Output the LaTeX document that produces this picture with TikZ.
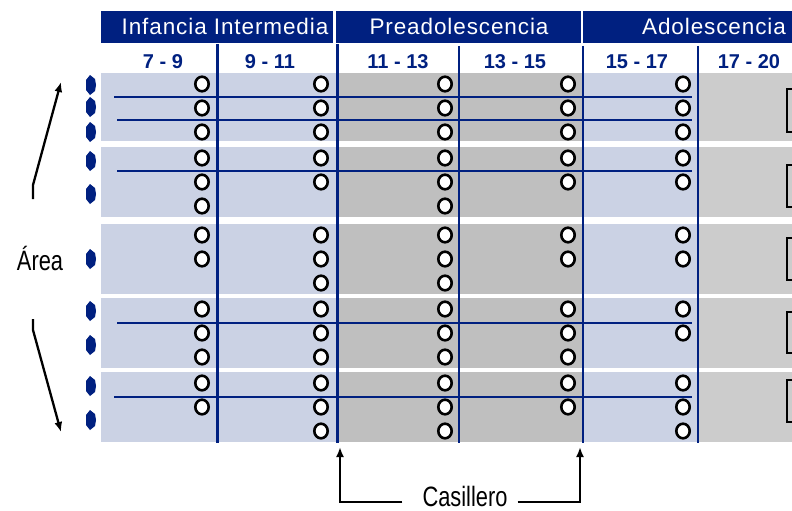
\documentclass[tikz,border=0pt]{standalone}
\usepackage{fontspec}
\setmainfont{Liberation Sans}
\newfontfamily\angosta[FakeStretch=0.78]{Liberation Sans}
\usepackage{tikz}
\usetikzlibrary{arrows.meta}
\definecolor{azul}{RGB}{0,32,128}
\definecolor{celeste}{RGB}{203,210,228}
\definecolor{gris}{RGB}{191,191,191}
\definecolor{grisclaro}{RGB}{204,204,204}

\begin{document}
\begin{tikzpicture}[x=1pt,y=-1pt,
    linea/.style={draw=azul,line width=2.3pt},
    hueco/.style={draw=black,fill=white,line width=2.6pt},
    etapa/.style={text=white,anchor=base,inner sep=0pt,font={\fontsize{22.5}{26}\selectfont\addfontfeature{LetterSpace=4}}},
    edad/.style={text=azul,anchor=base,inner sep=0pt,font={\bfseries\fontsize{20}{24}\selectfont}},
    rotulo/.style={anchor=base,inner sep=0pt,font={\angosta\fontsize{28}{32}\selectfont}},
    flecha/.style={line width=2.3pt,-{Latex[length=10pt,width=8pt]}}]
    \useasboundingbox (0,0) rectangle (792,511);
    \clip (0,0) rectangle (792,511);
    % bandas de cada area
    \foreach \arriba/\abajo in {73/141,147/217,224/294,298/368,372/442} {
        \fill[celeste] (101,\arriba) rectangle (338,\abajo);
        \fill[gris] (338,\arriba) rectangle (583,\abajo);
        \fill[celeste] (583,\arriba) rectangle (698,\abajo);
        \fill[grisclaro] (698,\arriba) rectangle (792,\abajo);
    }
    % encabezados
    \fill[azul] (101,11) rectangle (333,43);
    \fill[azul] (336,11) rectangle (581,43);
    \fill[azul] (583,11) rectangle (792,43);
    \node[etapa] (infancia) at (225,35) {Infancia Intermedia};
    \node[etapa] (preadol) at (459,35) {Preadolescencia};
    \node[etapa] (adol) at (714,35) {Adolescencia};
    \foreach \x/\txt in {163/7 - 9,270/9 - 11,398/11 - 13,515/13 - 15,637/15 - 17,749/17 - 20}
        \node[edad] (edad\x) at (\x,68) {\txt};
    % lineas
    \foreach \y/\desde in {96.7/114,120/117,171/117,323/117,397/114}
        \draw[linea] (\desde,\y) -- (692,\y);
    \foreach \x/\desde in {217.5/44,337.5/44,459/46,583/46,698/46}
        \draw[linea] (\x,\desde) -- (\x,443);
    % huecos
    \foreach \arriba/\a/\b/\c/\d/\e in {73/3/3/3/3/3,147/3/2/3/2/2,224/2/3/3/2/2,298/3/3/3/3/2,372/2/3/3/2/3}
        \foreach \x/\n in {202/\a,321/\b,445/\c,568/\d,683/\e}
            \foreach \k in {1,...,\n}
                \draw[hueco] (\x,{\arriba+11+24*(\k-1)}) ellipse (6.7pt and 7.3pt);
    % vinetas
    \foreach \y in {85,107,132,161,194,259,311,345,386,420}
        \fill[azul] (91,\y) ++(-1,-10) -- ++(5,4) -- ++(1,6) -- ++(-1,6) -- ++(-5,4) -- ++(-4,-5) -- ++(0,-10) -- cycle;
    % casillas de la derecha
    \foreach \arriba/\abajo in {89/132,165/207,238/280,312/353,380/422}
        \draw[line width=2.6pt] (800,\arriba) -| (787,\abajo) -- (800,\abajo);
    % rotulos
    \node[rotulo] (area) at (40,270) {Área};
    \coordinate (subeA) at (33,199);
    \coordinate (subeB) at (61,82);
    \coordinate (bajaA) at (33,319);
    \coordinate (bajaB) at (61,432);
    \draw[flecha] (subeA) -- ++(0,-14) -- (subeB);
    \draw[flecha] (bajaA) -- ++(0,11) -- (bajaB);
    \node[rotulo] (casillero) at (465,506) {Casillero};
    \coordinate (col1) at (340,447);
    \coordinate (col2) at (580,447);
    \draw[flecha] ([xshift=-20pt,yshift=-6pt]casillero.west) -| (col1);
    \draw[flecha] ([xshift=10pt,yshift=-6pt]casillero.east) -| (col2);
\end{tikzpicture}
\end{document}
